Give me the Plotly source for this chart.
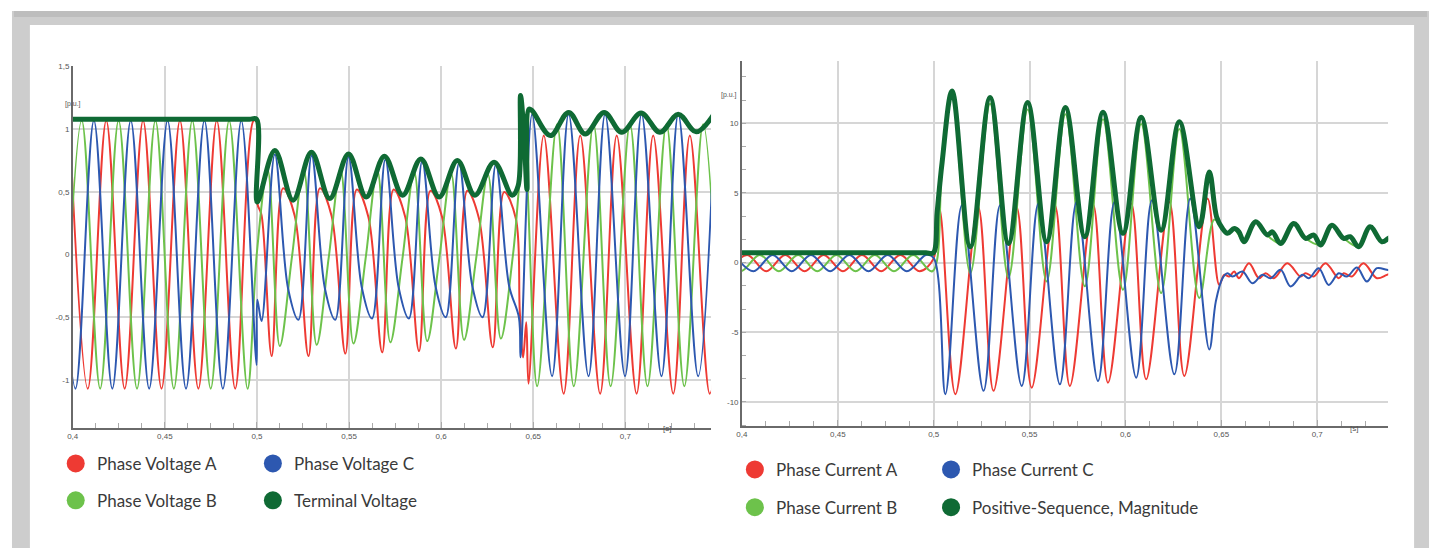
import plotly.graph_objects as go

# ---------------- data: left chart (voltages, p.u.) ----------------
VA_T = [0.3982, 0.4082, 0.4182, 0.4282, 0.4382, 0.4482, 0.4582, 0.4682, 0.4782, 0.4882, 0.4982, 0.4999,
        0.5002, 0.5025,
        0.5080, 0.5142, 0.5205, 0.5280, 0.5342, 0.5405, 0.5480, 0.5542, 0.5605, 0.5680, 0.5742, 0.5805,
        0.5880, 0.5942, 0.6005, 0.6080, 0.6142, 0.6205, 0.6280, 0.6342, 0.6405,
        0.6427, 0.6445, 0.6462, 0.6474,
        0.6557, 0.6665, 0.6755, 0.6863, 0.6953, 0.7061, 0.7151, 0.7260, 0.7350, 0.7458, 0.7557]
VA_V = [1.07, -1.07, 1.07, -1.07, 1.07, -1.07, 1.07, -1.07, 1.07, -1.07, 1.07, 1.06,
        0.41, 0.315,
        -0.81, 0.53, 0.31, -0.81, 0.53, 0.31, -0.79, 0.52, 0.30, -0.78, 0.52, 0.30,
        -0.77, 0.51, 0.30, -0.75, 0.51, 0.29, -0.74, 0.50, 0.29,
        -0.46, -0.82, -0.54, -1.03,
        0.95, -1.11, 0.95, -1.11, 0.95, -1.11, 0.95, -1.11, 0.95, -1.11, 0.95]

VB_T = [0.3949, 0.4049, 0.4149, 0.4249, 0.4349, 0.4449, 0.4549, 0.4649, 0.4749, 0.4849, 0.4949,
        0.5000, 0.5058,
        0.5124, 0.5190, 0.5254, 0.5324, 0.5390, 0.5454, 0.5524, 0.5590, 0.5654, 0.5724, 0.5790, 0.5854,
        0.5924, 0.5990, 0.6054, 0.6124, 0.6190, 0.6254, 0.6324, 0.6390, 0.6450,
        0.6521, 0.6629, 0.6720, 0.6827, 0.6920, 0.7025, 0.7120, 0.7223, 0.7320, 0.7422, 0.7520]
VB_V = [-1.07, 1.07, -1.07, 1.07, -1.07, 1.07, -1.07, 1.07, -1.07, 1.07, -1.07,
        0.02, 0.68,
        -0.73, -0.02, 0.68, -0.72, -0.02, 0.68, -0.71, -0.03, 0.67, -0.70, -0.03, 0.66,
        -0.69, -0.03, 0.65, -0.68, -0.03, 0.64, -0.67, 0.00, 0.85,
        -1.05, 1.04, -1.05, 1.04, -1.05, 1.04, -1.05, 1.04, -1.05, 1.04, -1.05]

VC_T = [0.3915, 0.4015, 0.4115, 0.4215, 0.4315, 0.4415, 0.4515, 0.4615, 0.4715, 0.4815, 0.4915, 0.4998,
        0.5002,
        0.5025, 0.5097, 0.5169, 0.5225, 0.5297, 0.5369, 0.5425, 0.5497, 0.5569, 0.5625, 0.5697, 0.5769,
        0.5825, 0.5897, 0.5969, 0.6025, 0.6097, 0.6169, 0.6225, 0.6297, 0.6369,
        0.6422, 0.6431,
        0.6494, 0.6602, 0.6692, 0.6800, 0.6890, 0.6998, 0.7088, 0.7196, 0.7287, 0.7395, 0.7487]
VC_V = [1.07, -1.07, 1.07, -1.07, 1.07, -1.07, 1.07, -1.07, 1.07, -1.07, 1.07, -0.88,
        -0.36,
        -0.53, 0.80, -0.27, -0.52, 0.79, -0.27, -0.52, 0.78, -0.26, -0.51, 0.76, -0.26,
        -0.51, 0.745, -0.25, -0.50, 0.73, -0.25, -0.50, 0.72, -0.25,
        -0.50, -0.82,
        1.12, -0.97, 1.12, -0.97, 1.12, -0.97, 1.12, -0.97, 1.12, -0.97, 1.12]

VT_T = [0.3900, 0.4000, 0.4100, 0.4200, 0.4300, 0.4400, 0.4500, 0.4600, 0.4700, 0.4800, 0.4900, 0.4960,
        0.4998, 0.5002,
        0.5097, 0.5196, 0.5296, 0.5395, 0.5497, 0.5593, 0.5692, 0.5791, 0.5890, 0.5989, 0.6088, 0.6183,
        0.6287, 0.6385,
        0.6418, 0.6431, 0.6450, 0.6466, 0.6476, 0.6493,
        0.6593, 0.6692, 0.6782, 0.6885, 0.6980, 0.7085, 0.7188, 0.7287, 0.7384, 0.7480]
VT_V = [1.08, 1.08, 1.08, 1.08, 1.08, 1.08, 1.08, 1.08, 1.08, 1.08, 1.08, 1.08,
        1.08, 0.42,
        0.831, 0.434, 0.817, 0.447, 0.804, 0.460, 0.786, 0.474, 0.764, 0.460, 0.751, 0.474,
        0.738, 0.474,
        0.55, 1.27, 0.95, 0.52, 1.16, 1.15,
        0.95, 1.135, 0.963, 1.135, 0.976, 1.13, 0.976, 1.12, 0.98, 1.12]

# ---------------- data: right chart (currents, p.u.) ----------------
IA_T = [0.3927, 0.4027, 0.4127, 0.4226, 0.4327, 0.4426, 0.4527, 0.4626, 0.4726, 0.4826, 0.4926, 0.4998,
        0.5030, 0.5113, 0.5232, 0.5312, 0.5432, 0.5511, 0.5632, 0.5710, 0.5831, 0.5909, 0.6030, 0.6108,
        0.6229, 0.6307, 0.6428,
        0.6489, 0.6515, 0.6541, 0.6567, 0.6592, 0.6644, 0.6696, 0.6731, 0.6774, 0.6844, 0.6913, 0.6939,
        0.6982, 0.7043, 0.7112, 0.7138, 0.7181, 0.7241, 0.7311, 0.7363, 0.7400]
IA_V = [-0.62, 0.55, -0.62, 0.55, -0.62, 0.55, -0.62, 0.55, -0.62, 0.55, -0.62, 0.25,
        3.88, -9.45, 4.00, -9.21, 4.00, -8.98, 4.12, -8.86, 4.17, -8.62, 4.24, -8.38,
        4.36, -8.14, 4.60,
        -1.60, -0.88, -1.00, -0.64, -1.12, -0.05, -1.12, -0.76, -1.12, -0.05, -1.00, -0.76,
        -1.00, -0.05, -1.12, -0.76, -1.00, -0.05, -1.12, -0.88, -0.70]

IB_T = [0.3893, 0.3993, 0.4093, 0.4193, 0.4293, 0.4393, 0.4493, 0.4593, 0.4693, 0.4793, 0.4893, 0.4993,
        0.5044,
        0.5096, 0.5191, 0.5294, 0.5390, 0.5490, 0.5589, 0.5687, 0.5788, 0.5883, 0.5987, 0.6082, 0.6186,
        0.6281, 0.6385, 0.6463,
        0.6506, 0.6532, 0.6567, 0.6618, 0.6679, 0.6740, 0.6809, 0.6878, 0.6939, 0.7017, 0.7077, 0.7138,
        0.7216, 0.7276, 0.7337, 0.7400]
IB_V = [0.55, -0.62, 0.55, -0.62, 0.55, -0.62, 0.55, -0.62, 0.55, -0.62, 0.55, -0.62,
        6.8,
        12.0, -0.76, 11.4, -1.10, 11.0, -1.36, 10.66, -1.70, 10.3, -1.95, 9.95, -2.19,
        9.6, -2.55, 3.1,
        2.4, 2.1, 2.4, 1.5, 2.9, 1.95, 1.4, 2.8, 1.75, 1.3, 2.65, 1.75,
        1.15, 2.55, 1.5, 2.0]

IC_T = [0.3960, 0.4060, 0.4160, 0.4260, 0.4360, 0.4460, 0.4560, 0.4660, 0.4760, 0.4860, 0.4960, 0.5001,
        0.5061, 0.5147, 0.5260, 0.5346, 0.5459, 0.5546, 0.5658, 0.5745, 0.5857, 0.5943, 0.6056, 0.6138,
        0.6255, 0.6338, 0.6437,
        0.6471, 0.6506, 0.6532, 0.6558, 0.6610, 0.6662, 0.6714, 0.6757, 0.6809, 0.6861, 0.6922, 0.6956,
        0.7008, 0.7060, 0.7112, 0.7155, 0.7207, 0.7259, 0.7311, 0.7363, 0.7400]
IC_V = [0.55, -0.62, 0.55, -0.62, 0.55, -0.62, 0.55, -0.62, 0.55, -0.62, 0.55, 0.30,
        -9.45, 4.12, -9.21, 4.12, -8.86, 4.24, -8.74, 4.36, -8.50, 4.36, -8.26, 4.48,
        -8.02, 4.60, -6.24,
        -2.80, -1.12, -0.76, -1.00, -0.64, -1.48, -0.88, -1.12, -0.52, -1.71, -0.88, -1.12,
        -0.40, -1.60, -0.76, -1.00, -0.36, -1.36, -0.40, -0.52, -0.60]

IP_T = [0.3900, 0.4000, 0.4100, 0.4200, 0.4300, 0.4400, 0.4500, 0.4600, 0.4700, 0.4800, 0.4900, 0.4960,
        0.4998, 0.5018, 0.5044,
        0.5096, 0.5191, 0.5294, 0.5390, 0.5490, 0.5589, 0.5687, 0.5788, 0.5883, 0.5987, 0.6082, 0.6186,
        0.6281, 0.6385, 0.6437, 0.6475,
        0.6506, 0.6532, 0.6567, 0.6592, 0.6618, 0.6679, 0.6740, 0.6766, 0.6809, 0.6878, 0.6939, 0.6982,
        0.7017, 0.7077, 0.7138, 0.7172, 0.7216, 0.7276, 0.7337, 0.7371, 0.7400]
IP_V = [0.70, 0.70, 0.70, 0.70, 0.70, 0.70, 0.70, 0.70, 0.70, 0.70, 0.70, 0.70,
        0.70, 3.6, 7.2,
        12.33, 1.14, 11.86, 1.38, 11.5, 1.50, 11.14, 1.86, 10.79, 2.10, 10.43, 2.33,
        10.12, 2.57, 6.5, 3.3,
        2.45, 2.10, 2.45, 2.21, 1.50, 2.93, 1.98, 2.21, 1.38, 2.81, 1.74, 1.98,
        1.26, 2.69, 1.74, 1.86, 1.14, 2.57, 1.50, 1.74, 2.0]

# ---------------- axis labels ----------------
X_TICKS = [0.4, 0.45, 0.5, 0.55, 0.6, 0.65, 0.7]
X_TEXT = ["0,4", "0,45", "0,5", "0,55", "0,6", "0,65", "0,7"]
YL_TICKS = [-1, -0.5, 0, 0.5, 1, 1.5]
YL_TEXT = ["-1", "-0,5", "0", "0,5", "1", "1,5"]
YR_TICKS = [-10, -5, 0, 5, 10]
YR_TEXT = ["-10", "-5", "0", "5", "10"]

LEFT_NAMES = ["Phase Voltage A", "Phase Voltage C", "Phase Voltage B", "Terminal Voltage"]
RIGHT_NAMES = ["Phase Current A", "Phase Current C", "Phase Current B", "Positive-Sequence, Magnitude"]

RED = "#ee3a33"
BLUE = "#2d58b0"
LGREEN = "#6dc24b"
DGREEN = "#0f6a34"

W, H = 1434, 548


def px(x):
    return x / W


def py(y):
    return 1 - y / H


fig = go.Figure()


def add_line(t, v, color, width, xa, ya):
    fig.add_trace(go.Scatter(x=t, y=v, mode="lines", xaxis=xa, yaxis=ya,
                             line=dict(color=color, width=width, shape="spline", smoothing=1.0),
                             showlegend=False, hoverinfo="skip"))


add_line(VA_T, VA_V, RED, 2, "x", "y")
add_line(VB_T, VB_V, LGREEN, 2, "x", "y")
add_line(VC_T, VC_V, BLUE, 2, "x", "y")
add_line(VT_T, VT_V, DGREEN, 5, "x", "y")

add_line(IA_T, IA_V, RED, 2, "x2", "y2")
add_line(IB_T, IB_V, LGREEN, 2, "x2", "y2")
add_line(IC_T, IC_V, BLUE, 2, "x2", "y2")
add_line(IP_T, IP_V, DGREEN, 5, "x2", "y2")

tickfont = dict(family="Liberation Sans Narrow, Liberation Sans, Arial", size=8, color="#555555")
common_x = dict(tickvals=X_TICKS, ticktext=X_TEXT, showgrid=True, gridcolor="#d6d6d6", gridwidth=1.5,
                showline=True, linecolor="#6a6a6a", linewidth=1.5, ticks="inside", ticklen=6,
                tickcolor="#aaaaaa", zeroline=False, tickfont=tickfont, fixedrange=True,
                minor=dict(dtick=0.0125, tick0=0.4, ticks="inside", ticklen=5, tickcolor="#aaaaaa",
                           showgrid=False))
common_y = dict(showgrid=True, gridcolor="#d6d6d6", gridwidth=1.5, showline=True, linecolor="#6a6a6a",
                linewidth=1.5, ticks="", zeroline=False, tickfont=tickfont, fixedrange=True)

shapes = [
    dict(type="rect", xref="paper", yref="paper", x0=px(6), x1=px(1429), y0=py(548), y1=py(8),
         fillcolor="#cdcdcd", line=dict(width=0), layer="below"),
    dict(type="rect", xref="paper", yref="paper", x0=px(8), x1=px(1427), y0=py(14), y1=py(8),
         fillcolor="#bdbdbd", line=dict(width=0), layer="below"),
    dict(type="rect", xref="paper", yref="paper", x0=px(24), x1=px(1414), y0=py(548), y1=py(22),
         fillcolor="#ffffff", line=dict(width=0), layer="below"),
]

annotations = []
legend_items = [
    (70, 463, RED, LEFT_NAMES[0]), (268, 463, BLUE, LEFT_NAMES[1]),
    (70, 500, LGREEN, LEFT_NAMES[2]), (268, 500, DGREEN, LEFT_NAMES[3]),
    (752, 469, RED, RIGHT_NAMES[0]), (949, 469, BLUE, RIGHT_NAMES[1]),
    (752, 507, LGREEN, RIGHT_NAMES[2]), (949, 507, DGREEN, RIGHT_NAMES[3]),
]
for cx, cy, col, name in legend_items:
    shapes.append(dict(type="circle", xref="paper", yref="paper", xsizemode="pixel", ysizemode="pixel",
                       xanchor=px(cx), yanchor=py(cy), x0=-9, x1=9, y0=-9, y1=9,
                       fillcolor=col, line=dict(width=0)))
    annotations.append(dict(xref="paper", yref="paper", x=px(cx + 19), y=py(cy), text=name,
                            showarrow=False, xanchor="left", yanchor="middle",
                            font=dict(family="Lato, Noto Sans, sans-serif", size=17, color="#3a3a3a")))

small = dict(family="Liberation Sans Narrow, Liberation Sans, Arial", size=7, color="#555555")
annotations += [
    dict(xref="paper", yref="paper", x=px(57), y=py(96), text="[p.u.]", showarrow=False, font=small),
    dict(xref="paper", yref="paper", x=px(726), y=py(86), text="[p.u.]", showarrow=False, font=small),
    dict(xref="paper", yref="paper", x=px(664), y=py(434), text="[s]", showarrow=False, font=tickfont),
    dict(xref="paper", yref="paper", x=px(1360), y=py(434), text="[s]", showarrow=False, font=tickfont),
]

fig.update_layout(
    width=W, height=H, margin=dict(l=0, r=0, t=0, b=0),
    paper_bgcolor="#ffffff", plot_bgcolor="rgba(0,0,0,0)",
    xaxis=dict(domain=[px(67), px(708)], range=[0.4, 0.7465], anchor="y", **common_x),
    yaxis=dict(domain=[1 - 427 / H, 1 - 63 / H], range=[-1.381, 1.508], anchor="x",
               tickvals=YL_TICKS, ticktext=YL_TEXT, **common_y),
    xaxis2=dict(domain=[px(739), px(1388)], range=[0.4, 0.737], anchor="y2", **common_x),
    yaxis2=dict(domain=[1 - 425 / H, 1 - 58 / H], range=[-11.71, 14.5], anchor="x2",
                tickvals=YR_TICKS, ticktext=YR_TEXT,
                minor=dict(dtick=1.6667, tick0=0, ticks="inside", ticklen=4, tickcolor="#aaaaaa",
                           showgrid=False),
                **common_y),
    shapes=shapes, annotations=annotations, showlegend=False,
)

fig.write_html("out.html", config={"displayModeBar": False},
               post_script="document.body.style.margin='0';document.body.style.overflow='hidden';")
